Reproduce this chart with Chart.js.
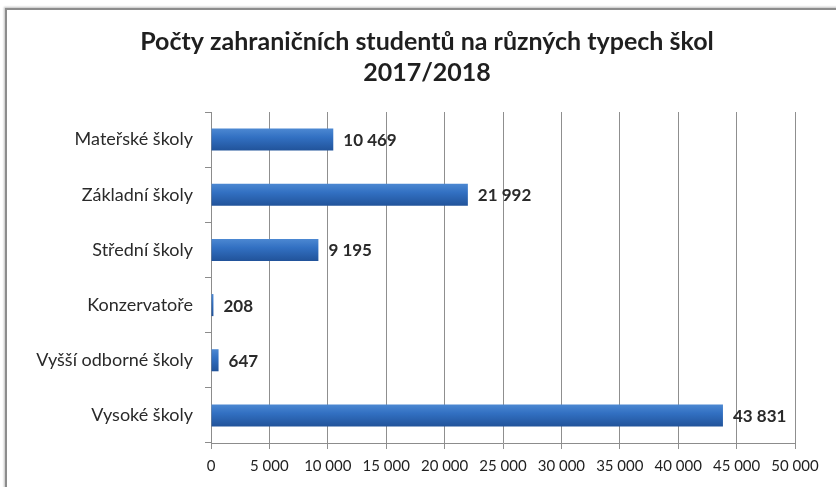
<!DOCTYPE html>
<html>
<head>
<meta charset="utf-8">
<script src="https://cdn.jsdelivr.net/npm/chart.js@4.4.1/dist/chart.umd.min.js"></script>
<style>
  html, body { margin:0; padding:0; background:#fff; }
  #wrap { position:relative; width:836px; height:487px; overflow:hidden; }
  #frame { position:absolute; left:5px; top:8px; width:900px; height:600px; border-left:2px solid #8c8c8c; border-top:2px solid #8c8c8c; box-shadow: -1px -1px 2px rgba(0,0,0,0.25); }
  canvas { position:absolute; left:0; top:0; }
</style>
</head>
<body>
<div id="wrap">
  <div id="frame"></div>
  <canvas id="c" width="836" height="487"></canvas>
</div>
<script>
const categories = ["Mateřské školy", "Základní školy", "Střední školy", "Konzervatoře", "Vyšší odborné školy", "Vysoké školy"];
const students = [10469, 21992, 9195, 208, 647, 43831];
const titleLines = ["Počty zahraničních studentů na různých typech škol", "2017/2018"];
const xMax = 50000;
const xStep = 5000;

const FONT = "Lato, 'Open Sans', sans-serif";
const fmt = v => String(v).replace(/\B(?=(\d{3})+(?!\d))/g, " ");

const valueLabels = {
  id: 'valueLabels',
  afterDatasetsDraw(chart) {
    const ctx = chart.ctx;
    const meta = chart.getDatasetMeta(0);
    ctx.save();
    ctx.font = "bold 17px " + FONT;
    ctx.fillStyle = "#2a2a2a";
    ctx.textAlign = "left";
    ctx.textBaseline = "middle";
    meta.data.forEach((bar, i) => {
      ctx.fillText(fmt(students[i]), bar.x + 10, bar.y + 1);
    });
    ctx.restore();
  }
};

const shiftTitle = {
  id: 'shiftTitle',
  afterLayout(chart) {
    const t = chart.titleBlock;
    if (t) { t.left = 59; t.right = 795; }
  }
};

function barFill(context) {
  const chart = context.chart;
  const { ctx, chartArea } = chart;
  if (!chartArea) return "#2d67b8";
  const y = chart.scales.y.getPixelForValue(context.dataIndex);
  const h = 11;
  const g = ctx.createLinearGradient(0, y - h, 0, y + h);
  g.addColorStop(0, "#4c88d2");
  g.addColorStop(0.4, "#3270c2");
  g.addColorStop(1, "#21539a");
  return g;
}

new Chart(document.getElementById("c"), {
  type: "bar",
  data: {
    labels: categories,
    datasets: [{
      data: students,
      backgroundColor: barFill,
      borderWidth: 0,
      barPercentage: 0.4,
      categoryPercentage: 1.0
    }]
  },
  options: {
    indexAxis: "y",
    responsive: false,
    animation: false,
    layout: { padding: { left: 0, right: 41, top: 0, bottom: 0 } },
    plugins: {
      legend: { display: false },
      tooltip: { enabled: false },
      title: {
        display: true,
        text: titleLines,
        color: "#1f1f1f",
        font: { family: FONT, size: 25, weight: "bold", lineHeight: 1.24 },
        padding: { top: 26, bottom: 24 }
      }
    },
    scales: {
      x: {
        min: 0, max: xMax,
        ticks: { stepSize: xStep, callback: v => fmt(v), color: "#1f1f1f", font: { family: FONT, size: 15 }, padding: 8, maxRotation: 0, autoSkip: false },
        grid: { color: "#8f8f8f", lineWidth: 1, tickLength: 6, drawTicks: true },
        border: { color: "#8c8c8c", width: 1 },
        afterFit(s) { s.height = 44; }
      },
      y: {
        ticks: { color: "#2a2a2a", font: { family: FONT, size: 18 }, padding: 12 },
        grid: { display: true, drawOnChartArea: false, offset: true, tickLength: 6, color: "#8c8c8c" },
        border: { color: "#8c8c8c", width: 1 },
        afterFit(s) { s.width = 211; }
      }
    }
  },
  plugins: [valueLabels, shiftTitle]
});
</script>
</body>
</html>
